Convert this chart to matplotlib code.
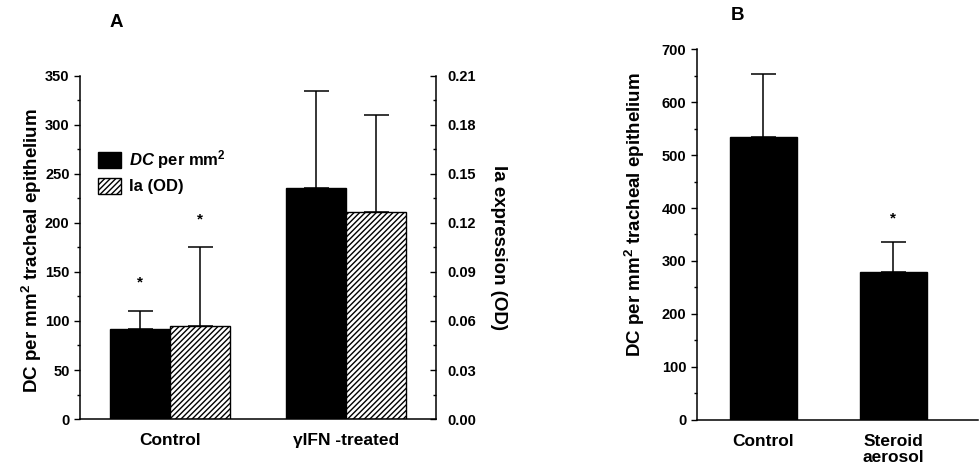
import matplotlib
matplotlib.use("Agg")
import matplotlib.pyplot as plt
import numpy as np

plt.rcParams['font.family'] = ['Liberation Sans', 'DejaVu Sans']
plt.rcParams['font.weight'] = 'bold'
plt.rcParams['hatch.linewidth'] = 1.0
plt.rcParams['mathtext.fontset'] = 'custom'
plt.rcParams['mathtext.rm'] = 'Liberation Sans:bold'
plt.rcParams['mathtext.it'] = 'Liberation Sans:italic:bold'
plt.rcParams['mathtext.bf'] = 'Liberation Sans:bold'

# Panel A data
groups_a = ["Control", "γIFN -treated"]
dc_mean_a = [92, 236]
dc_err_a = [18, 99]
ia_mean_a = [0.057, 0.127]
ia_err_a = [0.048, 0.059]
dc_sig_a = [True, False]
ia_sig_a = [True, False]

# Panel B data
groups_b = ["Control", "Steroid\naerosol"]
dc_mean_b = [534, 279]
dc_err_b = [119, 57]
dc_sig_b = [False, True]

ylab = 'DC per mm$^{2}$ tracheal epithelium'

fig = plt.figure(figsize=(9.8, 4.69), dpi=100)

# ---- Panel A ----
axA = fig.add_axes([0.0816, 0.1066, 0.3633, 0.7314])
axA2 = axA.twinx()
w = 0.341
x = np.arange(len(groups_a))
axA.bar(x - w/2, dc_mean_a, w, color='black', edgecolor='black', lw=1, label='$\\mathit{DC}$ per mm$^{2}$', zorder=2)
axA.errorbar(x - w/2, dc_mean_a, yerr=[np.zeros(2), dc_err_a], fmt='none', ecolor='black',
             elinewidth=1.1, capsize=9, capthick=1.1, zorder=1)
ia_scaled = np.array(ia_mean_a) / 0.0006
ia_err_scaled = np.array(ia_err_a) / 0.0006
axA.bar(x + w/2, ia_scaled, w, color='white', edgecolor='black', lw=1, hatch='//////', label='Ia (OD)', zorder=2)
axA.errorbar(x + w/2, ia_scaled, yerr=[np.zeros(2), ia_err_scaled], fmt='none', ecolor='black',
             elinewidth=1.1, capsize=9, capthick=1.1, zorder=1)
for i in range(len(groups_a)):
    if dc_sig_a[i]:
        axA.annotate('*', (x[i] - w/2, dc_mean_a[i] + dc_err_a[i]), xytext=(0, 21),
                     textcoords='offset points', ha='center', va='center', fontsize=11)
    if ia_sig_a[i]:
        axA.annotate('*', (x[i] + w/2, ia_scaled[i] + ia_err_scaled[i]), xytext=(0, 20),
                     textcoords='offset points', ha='center', va='center', fontsize=11)

axA.set_xlim(-0.511, 1.511)
axA.set_ylim(0, 350)
axA.set_yticks(np.arange(0, 351, 50))
axA.set_yticks(np.arange(25, 350, 50), minor=True)
axA.set_xticks(x)
axA.set_xticklabels(groups_a, fontsize=12.5, fontweight='bold')
axA.tick_params(axis='x', length=0, pad=10)
axA.tick_params(axis='y', which='major', direction='out', length=4, width=1, labelsize=10.5)
axA.tick_params(axis='y', which='minor', direction='out', length=2, width=1)
axA.set_ylabel(ylab, fontsize=13.5, fontweight='bold')
axA.yaxis.set_label_coords(-0.10, 0.49)
for s in ['top', 'right']:
    axA.spines[s].set_visible(False)
axA2.set_ylim(0, 0.21)
axA2.set_yticks(np.arange(0, 0.211, 0.03))
axA2.set_yticks(np.arange(0.015, 0.21, 0.03), minor=True)
axA2.set_yticklabels([f"{v:.2f}" for v in np.arange(0, 0.211, 0.03)])
axA2.tick_params(axis='y', which='major', direction='in', length=4, width=1, labelsize=10.5, pad=8)
axA2.tick_params(axis='y', which='minor', direction='in', length=2, width=1)
axA2.set_ylabel('Ia expression (OD)', fontsize=13.5, fontweight='bold', rotation=-90, labelpad=22)
for s in ['top', 'left', 'bottom']:
    axA2.spines[s].set_visible(False)
for ax in (axA, axA2):
    for s in ax.spines.values():
        s.set_linewidth(1.1)
leg = axA.legend(loc='upper left', bbox_to_anchor=(0.05, 0.79), frameon=False, fontsize=12,
                 handlelength=1.4, handleheight=1.1, handletextpad=0.5, labelspacing=0.4,
                 borderaxespad=0, borderpad=0)
fig.text(0.1184, 0.952, 'A', fontsize=13.5, fontweight='bold', ha='center', va='center')

# ---- Panel B ----
axB = fig.add_axes([0.711, 0.1045, 0.287, 0.791])
xb = np.arange(len(groups_b))
wb = 0.517
axB.bar(xb, dc_mean_b, wb, color='black', edgecolor='black', lw=1, zorder=2)
axB.errorbar(xb, dc_mean_b, yerr=[np.zeros(2), dc_err_b], fmt='none', ecolor='black',
             elinewidth=1.1, capsize=9, capthick=1.1, zorder=1)
for i in range(len(groups_b)):
    if dc_sig_b[i]:
        axB.annotate('*', (xb[i], dc_mean_b[i] + dc_err_b[i]), xytext=(0, 17),
                     textcoords='offset points', ha='center', va='center', fontsize=11)
axB.set_xlim(-0.514, 1.656)
axB.set_ylim(0, 700)
axB.set_yticks(np.arange(0, 701, 100))
axB.set_yticks(np.arange(50, 700, 100), minor=True)
axB.set_xticks(xb)
axB.set_xticklabels(groups_b, fontsize=12.5, fontweight='bold', linespacing=1.1)
axB.tick_params(axis='x', length=0, pad=10)
axB.tick_params(axis='y', which='major', direction='out', length=4, width=1, labelsize=10.5)
axB.tick_params(axis='y', which='minor', direction='out', length=2, width=1)
axB.set_ylabel(ylab, fontsize=13.5, fontweight='bold')
axB.yaxis.set_label_coords(-0.178, 0.553)
for s in ['top', 'right']:
    axB.spines[s].set_visible(False)
for s in axB.spines.values():
    s.set_linewidth(1.1)
fig.text(0.753, 0.967, 'B', fontsize=13.5, fontweight='bold', ha='center', va='center')

fig.savefig('out.png', dpi=100)
